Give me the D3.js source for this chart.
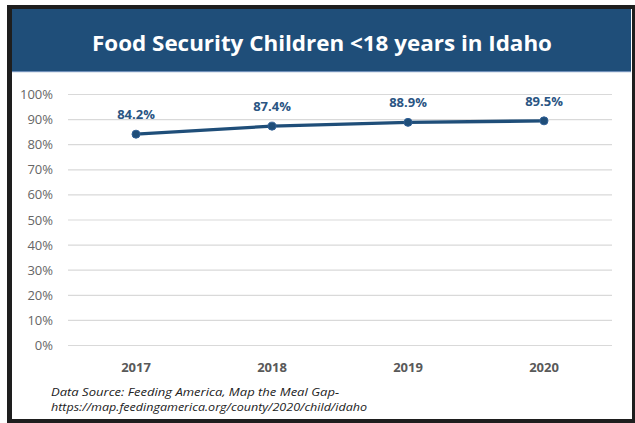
<!DOCTYPE html>
<html>
<head>
<meta charset="utf-8">
<script src="https://cdn.jsdelivr.net/npm/d3@7"></script>
<style>
    body { margin: 0; background: #fff; }
    svg { display: block; }
</style>
</head>
<body>
<div id="chart"></div>
<script>
const years = ["2017", "2018", "2019", "2020"];
const values = [84.2, 87.4, 88.9, 89.5];
const yTicks = [0, 10, 20, 30, 40, 50, 60, 70, 80, 90, 100];
const titleText = "Food Security Children <18 years in Idaho";
const sourceLines = [
    "Data Source: Feeding America, Map the Meal Gap-",
    "https://map.feedingamerica.org/county/2020/child/idaho"
];
const sourceWidths = [288, 316];

const width = 635, height = 423;
const margin = { top: 94.5, right: 23, bottom: 77.5, left: 68 };
const navy = "#1f4e79";

const svg = d3.select("#chart")
    .append("svg")
    .attr("width", width)
    .attr("height", height);

// frame + header

svg.append("rect")
    .attr("x", 7).attr("y", 5)
    .attr("width", 628).attr("height", 418)
    .attr("fill", "#1e1e1e");

svg.append("rect")
    .attr("x", 12).attr("y", 9)
    .attr("width", 620).attr("height", 410)
    .attr("fill", "#fff");

svg.append("rect")
    .attr("x", 12).attr("y", 9)
    .attr("width", 619).attr("height", 62)
    .attr("fill", navy);

svg.append("rect")
    .attr("x", 12).attr("y", 71)
    .attr("width", 619).attr("height", 1.2)
    .attr("fill", "#6f8fb8");

svg.append("text")
    .attr("x", 322)
    .attr("y", 51)
    .attr("text-anchor", "middle")
    .attr("fill", "#fff")
    .attr("font-family", "'Open Sans', sans-serif")
    .attr("font-weight", 700)
    .attr("font-size", 21.5)
    .attr("textLength", 460)
    .attr("lengthAdjust", "spacingAndGlyphs")
    .text(titleText);

// scales

const x = d3.scaleBand()
    .domain(years)
    .range([margin.left, width - margin.right]);

const y = d3.scaleLinear()
    .domain([0, 100])
    .range([height - margin.bottom, margin.top]);

// grid + y labels

svg.append("g")
    .selectAll("line")
    .data(yTicks)
    .join("line")
    .attr("x1", margin.left)
    .attr("x2", width - margin.right)
    .attr("y1", d => y(d))
    .attr("y2", d => y(d))
    .attr("stroke", "#d9d9d9")
    .attr("stroke-width", 1.2);

svg.append("g")
    .selectAll("text")
    .data(yTicks)
    .join("text")
    .attr("x", 53)
    .attr("y", d => y(d))
    .attr("dy", "0.35em")
    .attr("text-anchor", "end")
    .attr("fill", "#666")
    .attr("font-family", "'Open Sans', sans-serif")
    .attr("font-size", 13)
    .text(d => d + "%");

// x labels

svg.append("g")
    .selectAll("text")
    .data(years)
    .join("text")
    .attr("x", d => x(d) + x.bandwidth() / 2)
    .attr("y", 372)
    .attr("text-anchor", "middle")
    .attr("fill", "#595959")
    .attr("font-family", "'Open Sans', sans-serif")
    .attr("font-weight", 700)
    .attr("font-size", 13)
    .text(d => d);

// line

const data = years.map((d, i) => ({ year: d, value: values[i] }));

const line = d3.line()
    .x(d => x(d.year) + x.bandwidth() / 2)
    .y(d => y(d.value));

svg.append("path")
    .datum(data)
    .attr("d", line)
    .attr("fill", "none")
    .attr("stroke", navy)
    .attr("stroke-width", 3.3);

svg.append("g")
    .selectAll("circle")
    .data(data)
    .join("circle")
    .attr("cx", d => x(d.year) + x.bandwidth() / 2)
    .attr("cy", d => y(d.value))
    .attr("r", 4)
    .attr("fill", navy)
    .attr("stroke", "#2f5f96")
    .attr("stroke-width", 1);

svg.append("g")
    .selectAll("text")
    .data(data)
    .join("text")
    .attr("x", d => x(d.year) + x.bandwidth() / 2)
    .attr("y", d => y(d.value) - 15)
    .attr("text-anchor", "middle")
    .attr("fill", "#2a5583")
    .attr("font-family", "'Open Sans', sans-serif")
    .attr("font-weight", 700)
    .attr("font-size", 13)
    .text(d => d.value.toFixed(1) + "%");

// source note

svg.append("g")
    .selectAll("text")
    .data(sourceLines)
    .join("text")
    .attr("x", 51)
    .attr("y", (d, i) => 396 + i * 15)
    .attr("fill", "#222")
    .attr("font-family", "'Open Sans', sans-serif")
    .attr("font-style", "italic")
    .attr("font-size", 11)
    .attr("textLength", (d, i) => sourceWidths[i])
    .attr("lengthAdjust", "spacingAndGlyphs")
    .text(d => d);
</script>
</body>
</html>
